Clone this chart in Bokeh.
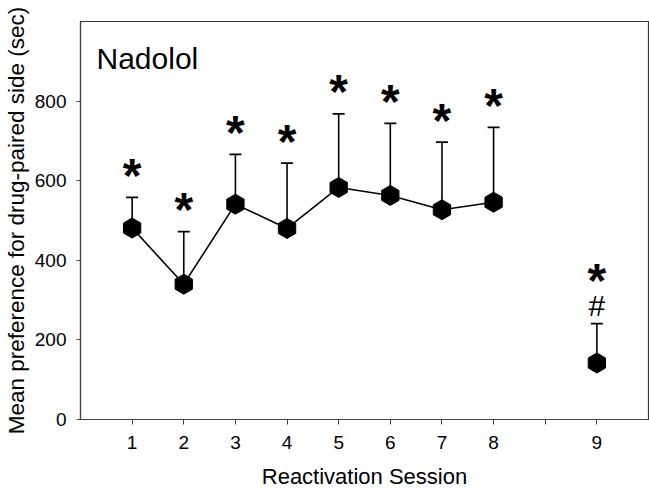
from bokeh.plotting import figure
from bokeh.models import ColumnDataSource, Label, FixedTicker, Range1d
from bokeh.core.properties import value
from bokeh.embed import file_html
from bokeh.resources import INLINE

# ---- data ----
sessions = ["1", "2", "3", "4", "5", "6", "7", "8", "9"]
x_pos = [1, 2, 3, 4, 5, 6, 7, 8, 10]
mean_pref = [481, 340, 541, 480, 583, 563, 527, 546, 142]
sem_upper = [558, 472, 666, 644, 768, 744, 697, 734, 241]
tick_positions = [1, 2, 3, 4, 5, 6, 7, 8, 9, 10]
tick_labels = ["1", "2", "3", "4", "5", "6", "7", "8", "", "9"]
y_ticks = [0, 200, 400, 600, 800]
star_marks = ["*"] * 9
hash_marks = ["#"]
hash_x = [10]
hash_base = [241]

FONT = "Liberation Sans"

p = figure(width=649, height=491, output_backend="svg", toolbar_location=None,
           x_range=Range1d(0, 11), y_range=Range1d(0, 1000),
           min_border_left=79, min_border_right=1, min_border_top=21,
           min_border_bottom=71)
p.grid.visible = False
p.outline_line_color = "#333333"
p.outline_line_width = 1.2

# axes
p.xaxis.ticker = FixedTicker(ticks=tick_positions)
p.xaxis.major_label_overrides = {t: l for t, l in zip(tick_positions, tick_labels)}
p.yaxis.ticker = FixedTicker(ticks=y_ticks)
for ax in (p.xaxis[0], p.yaxis[0]):
    ax.axis_line_color = "#444444"
    ax.axis_line_width = 1.2
    ax.major_tick_line_color = "#444444"
    ax.major_tick_in = 0
    ax.major_tick_out = 5
    ax.minor_tick_line_color = None
    ax.major_label_text_font = FONT
    ax.major_label_text_font_size = "19px"
    ax.major_label_text_color = "black"
    ax.axis_label_text_font = FONT
    ax.axis_label_text_font_style = "normal"
    ax.axis_label_text_color = "black"
p.yaxis.major_tick_out = 4
p.xaxis.axis_label = "Reactivation Session"
p.yaxis.axis_label = "Mean preference for drug-paired side (sec)"
p.xaxis.axis_label_text_font_size = "22px"
p.yaxis.axis_label_text_font_size = "22.5px"
p.xaxis.major_label_standoff = 11
p.yaxis.major_label_standoff = 10
p.xaxis.axis_label_standoff = 12
p.yaxis.axis_label_standoff = 3

src = ColumnDataSource(dict(x=x_pos, y=mean_pref, up=sem_upper, star=star_marks))

# error bars (upper only)
p.segment(x0="x", y0="y", x1="x", y1="up", source=src, line_color="black", line_width=1.6)
p.dash(x="x", y="up", source=src, size=12, line_color="black", line_width=1.8)

# connecting line for sessions 1-8
p.line(x=x_pos[:8], y=mean_pref[:8], line_color="black", line_width=1.6)

# hexagon markers (pointy top)
p.scatter(x="x", y="y", source=src, marker="hex", size=20, angle=1.5708,
          fill_color="black", line_color="black")

# significance asterisks
y_off = [-22] * 8 + [-43]
src_star = ColumnDataSource(dict(x=x_pos, y=sem_upper, t=star_marks, off=y_off))
p.text(x="x", y="y", text="t", source=src_star, y_offset="off",
       text_font=value(FONT), text_font_style="bold", text_font_size="48px",
       text_align="center", text_baseline="alphabetic", text_color="black")
p.text(x=hash_x, y=hash_base, text=hash_marks, y_offset=-18,
       text_font=value(FONT), text_font_size="30px",
       text_align="center", text_baseline="alphabetic", text_color="black")

p.add_layout(Label(x=0.31, y=907, text="Nadolol", text_font=FONT,
                   text_font_size="30px", text_color="black",
                   text_baseline="alphabetic"))

open("out.html", "w").write(file_html(p, INLINE))
